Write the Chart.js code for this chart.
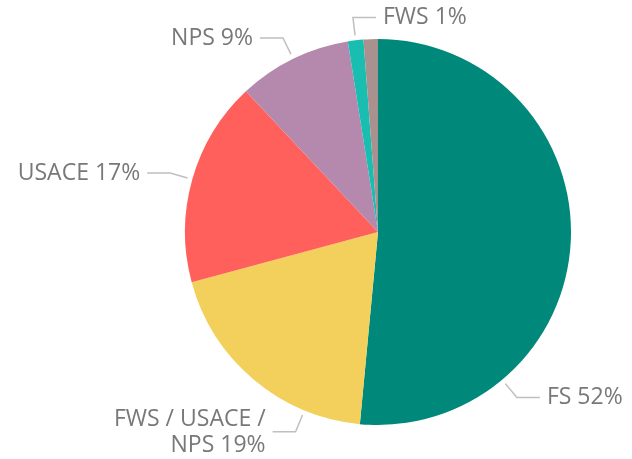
<!DOCTYPE html>
<html>
<head>
<meta charset="utf-8">
<script src="https://cdn.jsdelivr.net/npm/chart.js@4"></script>
<style>
  html, body { margin: 0; padding: 0; background: #fff; }
  #wrap { width: 632px; height: 459px; }
</style>
</head>
<body>
<div id="wrap"><canvas id="chartAgencias"></canvas></div>
<script>
// dados (sentido horario a partir do topo)
const categorias = ["FS", "FWS / USACE / NPS", "USACE", "NPS", "FWS", ""];
const valores = [51.5, 19.3, 17.2, 9.5, 1.3, 1.2];
const rotulos = [["FS 52%"], ["FWS / USACE /", "NPS 19%"], ["USACE 17%"], ["NPS 9%"], ["FWS 1%"], []];
const cores = ["#00897B", "#F2D05B", "#FF605B", "#B589AE", "#1ABEB0", "#A8918E"];

// onde a linha guia sai de cada fatia (fracao do arco) e para que lado vai o texto
const fracaoGuia = [0.755, 0.245, 0.5, 0.5, 0.5, 0.5];
const ladoTexto = [1, -1, -1, -1, 1, 0];

const rotulosPlugin = {
    id: "rotulosGuia",
    afterDatasetsDraw(chart) {
        const ctx = chart.ctx;
        const meta = chart.getDatasetMeta(0);
        ctx.save();
        ctx.font = "23px 'Open Sans', sans-serif";
        ctx.textBaseline = "middle";
        meta.data.forEach((arc, i) => {
            const linhas = rotulos[i];
            if (!linhas || linhas.length === 0) return;
            const ang = arc.startAngle + (arc.endAngle - arc.startAngle) * fracaoGuia[i];
            const r = arc.outerRadius;
            const x0 = arc.x + Math.cos(ang) * (r + 5);
            const y0 = arc.y + Math.sin(ang) * (r + 5);
            const x1 = arc.x + Math.cos(ang) * (r + 23);
            const y1 = arc.y + Math.sin(ang) * (r + 23);
            const lado = ladoTexto[i];
            const x2 = x1 + lado * 23;

            ctx.strokeStyle = "#BFBFBF";
            ctx.lineWidth = 1.5;
            ctx.beginPath();
            ctx.moveTo(x0, y0);
            ctx.lineTo(x1, y1);
            ctx.lineTo(x2, y1);
            ctx.stroke();

            ctx.fillStyle = "#787878";
            ctx.textAlign = lado > 0 ? "left" : "right";
            const alturaLinha = 26;
            const yIni = y1 - (linhas.length - 1) * alturaLinha / 2 + (linhas.length > 1 ? 1 : 0);
            linhas.forEach((t, k) => {
                ctx.fillText(t, x2 + lado * 7, yIni + k * alturaLinha);
            });
        });
        ctx.restore();
    }
};

const ctx = document.getElementById("chartAgencias").getContext("2d");
const chartAgencias = new Chart(ctx, {
    type: "pie",
    data: {
        labels: categorias,
        datasets: [{
            data: valores,
            backgroundColor: cores,
            borderWidth: 0
        }]
    },
    options: {
        responsive: true,
        maintainAspectRatio: false,
        animation: false,
        layout: { padding: { left: 185, right: 61, top: 39, bottom: 34 } },
        plugins: {
            legend: { display: false },
            tooltip: { enabled: false }
        }
    },
    plugins: [rotulosPlugin]
});
</script>
</body>
</html>
